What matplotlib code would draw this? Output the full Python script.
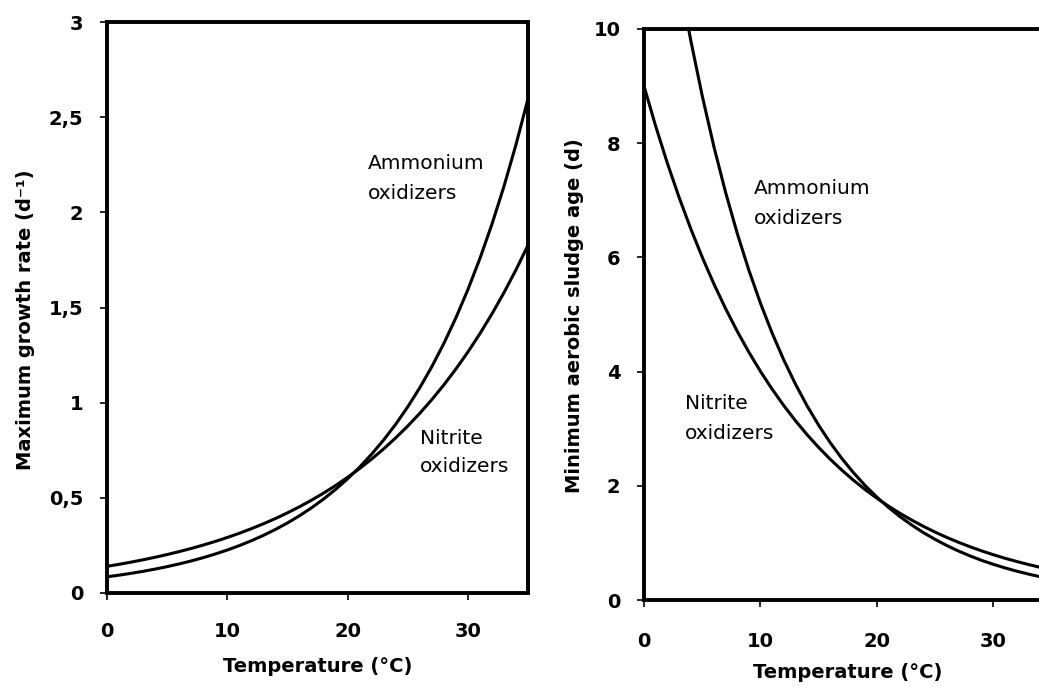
import matplotlib
matplotlib.use("Agg")
import matplotlib.pyplot as plt
from matplotlib.ticker import FixedLocator, FixedFormatter

plt.rcParams['font.family'] = ['DejaVu Sans']

temp = list(range(0, 36))

# Left panel: maximum growth rate (1/d)
mu_ammonium = [0.0850, 0.0937, 0.1033, 0.1139, 0.1256, 0.1385, 0.1528, 0.1684,
               0.1857, 0.2048, 0.2258, 0.2490, 0.2745, 0.3027, 0.3338, 0.3680,
               0.4058, 0.4474, 0.4934, 0.5440, 0.5998, 0.6614, 0.7293, 0.8041,
               0.8866, 0.9776, 1.0780, 1.1886, 1.3106, 1.4451, 1.5934, 1.7569,
               1.9372, 2.1361, 2.3553, 2.5970]
mu_nitrite = [0.1400, 0.1507, 0.1621, 0.1745, 0.1878, 0.2021, 0.2175, 0.2340,
              0.2519, 0.2710, 0.2917, 0.3139, 0.3378, 0.3635, 0.3912, 0.4210,
              0.4530, 0.4875, 0.5247, 0.5646, 0.6076, 0.6539, 0.7037, 0.7573,
              0.8150, 0.8770, 0.9438, 1.0157, 1.0930, 1.1763, 1.2659, 1.3623,
              1.4661, 1.5777, 1.6979, 1.8272]

# Right panel: minimum aerobic sludge age (d)
sa_ammonium = [15.00, 13.49, 12.13, 10.91, 9.815, 8.828, 7.940, 7.141, 6.423,
               5.777, 5.196, 4.673, 4.203, 3.781, 3.400, 3.058, 2.751, 2.474,
               2.225, 2.001, 1.800, 1.619, 1.456, 1.310, 1.178, 1.060, 0.953,
               0.857, 0.771, 0.693, 0.624, 0.561, 0.505, 0.454, 0.408, 0.367]
sa_nitrite = [9.000, 8.300, 7.654, 7.058, 6.509, 6.003, 5.535, 5.105, 4.707,
              4.341, 4.003, 3.692, 3.405, 3.140, 2.895, 2.670, 2.462, 2.271,
              2.094, 1.931, 1.781, 1.642, 1.514, 1.397, 1.288, 1.188, 1.095,
              1.010, 0.931, 0.859, 0.792, 0.730, 0.674, 0.621, 0.573, 0.528]

x_ticks = [0, 10, 20, 30]
left_yticks = [0, 0.5, 1, 1.5, 2, 2.5, 3]
left_ylabels = ['0', '0,5', '1', '1,5', '2', '2,5', '3']
right_yticks = [0, 2, 4, 6, 8, 10]
right_ylabels = ['0', '2', '4', '6', '8', '10']

W, H = 1039, 687
fig = plt.figure(figsize=(W / 100, H / 100), dpi=100)

def px_axes(x0, x1, y_top, y_bot):
    return fig.add_axes([x0 / W, 1 - y_bot / H, (x1 - x0) / W, (y_bot - y_top) / H])

ax1 = px_axes(107, 528, 22, 593)
ax2 = px_axes(644, 644 + 35 * 11.65, 29, 600)

line_kw = dict(color='black', lw=2.2, solid_capstyle='butt')

ax1.plot(temp, mu_ammonium, **line_kw)
ax1.plot(temp, mu_nitrite, **line_kw)
ax1.set_xlim(0, 35)
ax1.set_ylim(0, 3)
ax1.yaxis.set_major_locator(FixedLocator(left_yticks))
ax1.yaxis.set_major_formatter(FixedFormatter(left_ylabels))

ax2.plot(temp, sa_ammonium, **line_kw)
ax2.plot(temp, sa_nitrite, **line_kw)
ax2.set_xlim(0, 35)
ax2.set_ylim(0, 10)
ax2.yaxis.set_major_locator(FixedLocator(right_yticks))
ax2.yaxis.set_major_formatter(FixedFormatter(right_ylabels))

for ax in (ax1, ax2):
    ax.set_xticks(x_ticks)
    for s in ax.spines.values():
        s.set_linewidth(2.8)
        s.set_color('black')
    ax.tick_params(direction='out', length=5, width=1.2, colors='black',
                   labelsize=14)
    ax.tick_params(axis='y', pad=12)
    for lab in ax.get_xticklabels() + ax.get_yticklabels():
        lab.set_fontweight('bold')
ax1.tick_params(axis='x', pad=16)
ax2.tick_params(axis='x', pad=18)

lab_kw = dict(fontsize=14, fontweight='bold', ha='center', va='center')
fig.text(318 / W, 1 - 667 / H, 'Temperature (°C)', **lab_kw)
fig.text(848 / W, 1 - 673 / H, 'Temperature (°C)', **lab_kw)
fig.text(26 / W, 1 - 320 / H, 'Maximum growth rate (d⁻¹)', rotation=90, **lab_kw)
fig.text(574 / W, 1 - 316 / H, 'Minimum aerobic sludge age (d)', rotation=90, **lab_kw)

txt_kw = dict(fontsize=14.5, ha='left', va='center')
ax1.text(21.7, 2.254, 'Ammonium', **txt_kw)
ax1.text(21.7, 2.100, 'oxidizers', **txt_kw)
ax1.text(26.0, 0.814, 'Nitrite', **txt_kw)
ax1.text(26.0, 0.662, 'oxidizers', **txt_kw)
ax2.text(9.4, 7.21, 'Ammonium', **txt_kw)
ax2.text(9.4, 6.69, 'oxidizers', **txt_kw)
ax2.text(3.5, 3.44, 'Nitrite', **txt_kw)
ax2.text(3.5, 2.91, 'oxidizers', **txt_kw)

fig.savefig('out.png', dpi=100)
